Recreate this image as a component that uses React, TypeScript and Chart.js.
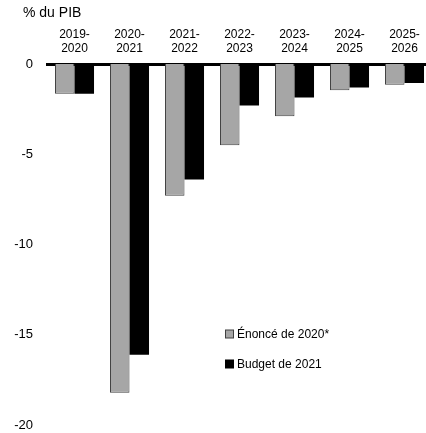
import React, { useEffect, useRef } from "react";
import { Chart, registerables } from "chart.js";

Chart.register(...registerables);

const categories: string[][] = [
  ["2019-", "2020"],
  ["2020-", "2021"],
  ["2021-", "2022"],
  ["2022-", "2023"],
  ["2023-", "2024"],
  ["2024-", "2025"],
  ["2025-", "2026"],
];
const enonce2020 = [-1.65, -18.2, -7.3, -4.5, -2.9, -1.45, -1.15];
const budget2021 = [-1.65, -16.1, -6.4, -2.3, -1.85, -1.3, -1.05];
const seriesLabels = ["Énoncé de 2020*", "Budget de 2021"];
const yTitle = "% du PIB";

const FONT = "Arial, 'Liberation Sans', sans-serif";

const overlayPlugin = {
  id: "overlay",
  afterDraw(chart: any) {
    const ctx = chart.ctx;
    ctx.save();
    ctx.fillStyle = "#000";
    ctx.font = `14px ${FONT}`;
    ctx.textBaseline = "middle";
    ctx.textAlign = "left";
    ctx.fillText(yTitle, 23, 13);

    const ds = chart.data.datasets;
    const items = [
      { y: 334, ds: ds[0] },
      { y: 364, ds: ds[1] },
    ];
    ctx.font = `12px ${FONT}`;
    items.forEach((it) => {
      ctx.fillStyle = it.ds.backgroundColor;
      ctx.fillRect(225.5, it.y - 4, 8, 8);
      ctx.lineWidth = 1;
      ctx.strokeStyle = it.ds.borderColor;
      ctx.strokeRect(225.5, it.y - 4, 8, 8);
      ctx.fillStyle = "#000";
      ctx.fillText(it.ds.label, 237, it.y + 0.5);
    });
    ctx.restore();
  },
};

export default function App() {
  const ref = useRef<HTMLCanvasElement>(null);
  useEffect(() => {
    if (!ref.current) return;
    const chart = new Chart(ref.current, {
      type: "bar",
      data: {
        labels: categories,
        datasets: [
          {
            label: seriesLabels[0],
            data: enonce2020,
            backgroundColor: "#a6a6a6",
            borderColor: "#404040",
            borderWidth: 1,
          },
          {
            label: seriesLabels[1],
            data: budget2021,
            backgroundColor: "#000000",
            borderColor: "#000000",
            borderWidth: 0,
          },
        ],
      },
      options: {
        responsive: true,
        maintainAspectRatio: false,
        animation: false,
        devicePixelRatio: 1,
        layout: { padding: 0 },
        datasets: {
          bar: { categoryPercentage: 0.71, barPercentage: 1 },
        },
        plugins: {
          legend: { display: false },
          tooltip: { enabled: false },
          title: { display: false },
        },
        scales: {
          x: {
            position: "top",
            grid: { display: false, drawTicks: false },
            border: { display: true, color: "#000", width: 3 },
            ticks: {
              color: "#000",
              font: { family: FONT, size: 12, lineHeight: 1.2 },
              padding: 8,
              maxRotation: 0,
              autoSkip: false,
            },
            afterFit(scale: any) {
              scale.height = 64;
            },
          },
          y: {
            min: -20,
            max: 0,
            grid: { display: false, drawTicks: false },
            border: { display: false },
            ticks: {
              stepSize: 5,
              color: "#000",
              font: { family: FONT, size: 13 },
              padding: 14,
            },
            afterFit(scale: any) {
              scale.width = 47;
            },
          },
        },
      },
      plugins: [overlayPlugin],
    } as any);
    return () => chart.destroy();
  }, []);
  return (
    <div
      style={{
        position: "fixed",
        left: 0,
        top: 0,
        width: 426,
        height: 433,
        overflow: "hidden",
        background: "#fff",
      }}
    >
      <div style={{ position: "relative", width: 432, height: 447 }}>
        <canvas ref={ref} />
      </div>
    </div>
  );
}
